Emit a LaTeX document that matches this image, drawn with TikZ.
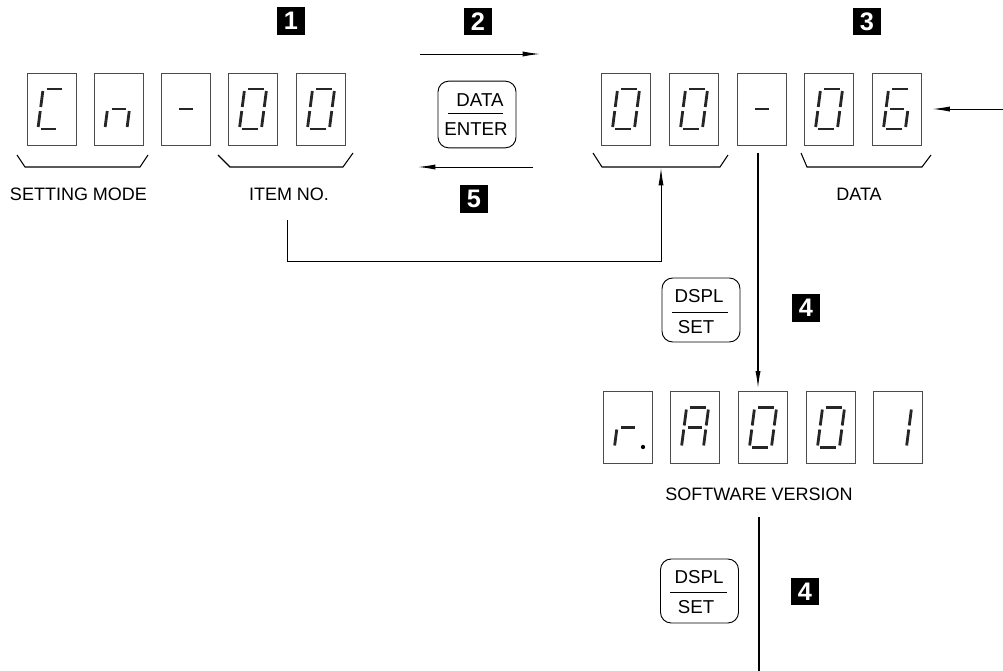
\documentclass[tikz,border=0pt]{standalone}
\usepackage{fontspec}
\setmainfont{Liberation Sans}
\usetikzlibrary{arrows.meta}
\def\sga{\draw[seg] (-7.5,-20)--(8,-20);}
\def\sgb{\draw[seg] (11,-18)--(11,-2);}
\def\sgc{\draw[seg] (11,2)--(11,18);}
\def\sgd{\draw[seg] (-8,20)--(7.5,20);}
\def\sge{\draw[seg] (-11,2)--(-11,18);}
\def\sgf{\draw[seg] (-11,-18)--(-11,-2);}
\def\sgg{\draw[seg] (-7,0)--(7,0);}
\newcommand\showdigit[2]{\begin{scope}[shift={(#1.center)},xslant=0.13]\foreach \s in {#2}{\csname sg\s\endcsname}\end{scope}}
\begin{document}
\begin{tikzpicture}[x=0.75pt,y=-0.75pt,
  disp/.style={draw=black!70,line width=0.5pt,minimum width=36.75pt,minimum height=54pt,inner sep=0pt},
  seg/.style={line width=2.1pt,line cap=butt,black!85},
  brace/.style={line width=0.8pt},
  lbl/.style={font=\fontsize{13.5}{15}\selectfont,inner sep=0pt},
  btn/.style={draw,line width=0.7pt,rounded corners=8pt,minimum width=58.5pt,inner sep=0pt},
  btxt/.style={font=\fontsize{14}{15}\selectfont,inner sep=0pt},
  badge/.style={fill=black,text=white,font=\fontsize{19}{19}\selectfont\bfseries,minimum size=20.5pt,inner sep=0pt},
  arr/.style={line width=0.7pt,-{Latex[length=13pt,width=3.8pt]}},
  ln/.style={line width=0.9pt}]
\useasboundingbox (0,0) rectangle (1003,671);
% top left display
\node[disp] (L1) at (51.5,109) {};
\node[disp] (L2) at (118.5,109) {};
\node[disp] (L3) at (186,109) {};
\node[disp] (L4) at (253,109) {};
\node[disp] (L5) at (321,109) {};
\showdigit{L1}{a,d,e,f}
\showdigit{L2}{c,e,g}
\showdigit{L3}{g}
\showdigit{L4}{a,b,c,d,e,f}
\showdigit{L5}{a,b,c,d,e,f}
% top right display
\node[disp] (R1) at (626,109) {};
\node[disp] (R2) at (694,109) {};
\node[disp] (R3) at (761.5,109) {};
\node[disp] (R4) at (829,109) {};
\node[disp] (R5) at (897,109) {};
\showdigit{R1}{a,b,c,d,e,f}
\showdigit{R2}{a,b,c,d,e,f}
\showdigit{R3}{g}
\showdigit{R4}{a,b,c,d,e,f}
\showdigit{R5}{a,c,d,e,f,g}
% bottom display
\node[disp] (B1) at (628,427.5) {};
\node[disp] (B2) at (695,427.5) {};
\node[disp] (B3) at (763,427.5) {};
\node[disp] (B4) at (831,427.5) {};
\node[disp] (B5) at (898,427.5) {};
\showdigit{B1}{e,g}
\fill ([shift={(15,19.5)}]B1.center) circle (1.6pt);
\showdigit{B2}{a,b,c,e,f,g}
\showdigit{B3}{a,b,c,d,e,f}
\showdigit{B4}{a,b,c,d,e,f}
\showdigit{B5}{b,c}
% braces
\draw[brace] (17,155) -- (25,167) -- (140,167) -- (148,155);
\draw[brace] (218,155) -- (230,167) -- (343,167) -- (353,153);
\draw[brace] (593,153) -- (602,167) -- (720,167) -- (728,155);
\draw[brace] (801,153) -- (807,167) -- (922,167) -- (931,155);
% labels
\node[lbl] (lsm) at (78.5,194) {SETTING MODE};
\node[lbl] (lin) at (289,194) {ITEM NO.};
\node[lbl] (ldata) at (859,194) {DATA};
\node[lbl] (lsv) at (759,494) {SOFTWARE VERSION};
% buttons
\node[btn,minimum height=50pt] (k1) at (477,114.5) {};
\node[btxt] (k1t) at (480,100) {DATA};
\node[btxt] (k1b) at (476,129) {ENTER};
\draw[line width=0.7pt] (448,113) -- (503,113);
\node[btn,minimum height=48pt] (k2) at (701,310) {};
\node[btxt] (k2t) at (699,296) {DSPL};
\node[btxt] (k2b) at (696,327) {SET};
\draw[line width=0.7pt] (672,312) -- (728,312);
\node[btn,minimum height=48pt] (k3) at (699.5,591) {};
\node[btxt] (k3t) at (699,577) {DSPL};
\node[btxt] (k3b) at (696,607) {SET};
\draw[line width=0.7pt] (670,592) -- (727,592);
% badges
\node[badge] (n1) at (291,21) {1};
\node[badge] (n2) at (478,21.5) {2};
\node[badge] (n3) at (867,21.5) {3};
\node[badge] (n5) at (474,199) {5};
\node[badge] (n4a) at (806,308) {4};
\node[badge] (n4b) at (805,591.5) {4};
% connectors
\coordinate (a2s) at (420,54);
\coordinate (a2e) at (540,54);
\draw[arr] (a2s) -- (a2e);
\coordinate (a5s) at (533,167);
\coordinate (a5e) at (418,167);
\draw[arr] (a5s) -- (a5e);
\coordinate (ain) at (1003,109);
\draw[arr,shorten >=8pt] (ain) -- (R5.east);
\coordinate (itemsrc) at (287,220);
\coordinate (tgt00) at (661,168);
\draw[arr,line width=0.6pt] (itemsrc) -- (287,261) -| (tgt00);
\coordinate (dsrc) at (758,153);
\draw[arr,line width=0.9pt,shorten >=2pt] (dsrc) -- (dsrc |- B3.north);
\coordinate (vs) at (759,517);
\coordinate (ve) at (759,671);
\draw[ln] (vs) -- (ve);
\end{tikzpicture}
\end{document}
